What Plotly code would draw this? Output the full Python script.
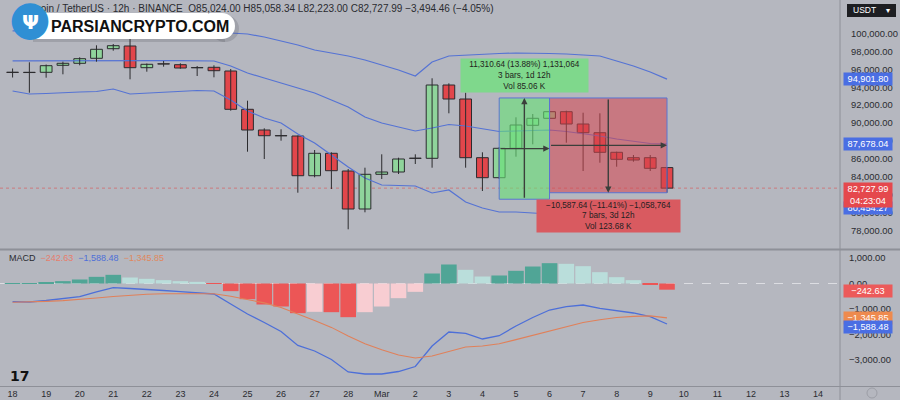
import plotly.graph_objects as go

# ---------------- data ----------------
date_labels = ['18','19','20','21','22','23','24','25','26','27','28','Mar',
               '2','3','4','5','6','7','8','9','10','11','12','13','14']
date_pos = [2*i for i in range(len(date_labels))]

opens  = [95666, 95660, 95666, 96448, 96671, 97230, 98302, 98604, 96180, 96593,
          96515, 96180, 96225, 95811, 91533, 89221, 88584, 88551, 84116, 86618,
          84641, 80397, 84273, 84530, 86060, 86060, 94247, 92684, 86127, 83893,
          87177, 89746, 90528, 91265, 89891, 88919, 86730, 86127, 86127, 85024.00]
highs  = [96090, 96783, 96537, 96850, 97342, 98682, 98827, 99609, 96649, 96928,
          96671, 96370, 96448, 96035, 92494, 89411, 89299, 88600, 86987, 86730,
          84865, 85010, 86507, 86127, 86507, 94996, 94437, 93387, 86730, 87322,
          90640, 91008, 91377, 91377, 91153, 91086, 86800, 86428, 86428, 85058.34]
lows   = [95085, 93387, 95063, 95443, 96448, 96850, 98079, 94884, 95733, 96292,
          96068, 95253, 95108, 91377, 86797, 85982, 88026, 82217, 83938, 82631,
          78129, 80028, 83748, 84306, 85423, 85010, 91086, 85010, 82407, 83748,
          86239, 87624, 90472, 87802, 84641, 85568, 85122, 85680, 84641, 82223.00]
closes = [95650, 95640, 96403, 96671, 97185, 98235, 98637, 96180, 96560, 96590,
          96146, 96170, 95845, 91533, 89221, 88584, 88570, 84116, 86618, 84675,
          80397, 84273, 84530, 85982, 86050, 94247, 92684, 86127, 83893, 87177,
          89779, 90528, 91265, 89891, 88919, 86730, 85948, 85870, 84943, 82727.99]

bb_upper = [100300, 100320, 100340, 100330, 100350, 100380, 100400, 100420, 100380, 100350,
            100320, 100280, 100200, 100056, 99944, 99609, 99162, 98715, 98157, 97822,
            97487, 97040, 96482, 95923, 95253, 96817, 97487, 97598, 97710, 97766,
            97822, 97822, 97766, 97710, 97598, 97487, 96928, 96370, 95700, 94901.80]
bb_basis = [96950, 96960, 96970, 96980, 96990, 97000, 97000, 96990, 96980, 96970,
            96960, 96950, 96930, 96370, 95588, 95029, 94471, 93912, 93354, 92572,
            91790, 90673, 90003, 89556, 89109, 89444, 89835, 89668, 89333, 89054,
            89109, 89165, 89221, 89054, 88830, 88551, 88216, 87937, 87713, 87678.04]
bb_lower = [93577, 93242, 93298, 93410, 93466, 93521, 93801, 93242, 93354, 93466,
            93521, 93633, 93577, 92572, 91343, 90561, 90003, 88774, 87769, 86429,
            85088, 83860, 83078, 83022, 82966, 82184, 82519, 81179, 80509, 80062,
            80062, 79950, 79839, 79839, 79950, 80062, 80174, 80286, 80397, 80454.27]

macd_line = [-715, -725, -666, -588, -517, -333, -165, -196, -227, -274,
             -321, -372, -412, -804, -1196, -1529, -1882, -2430, -2646, -2979,
             -3469, -3548, -3548, -3450, -3254, -2450, -1901, -1952, -2176, -2046,
             -1666, -1333, -1039, -909, -843, -972, -1078, -1156, -1301, -1588.48]
signal_line = [-737, -725, -700, -670, -630, -570, -510, -455, -420, -400,
               -390, -385, -400, -500, -620, -760, -940, -1180, -1450, -1720,
               -2060, -2360, -2600, -2800, -2920, -2840, -2650, -2490, -2450, -2360,
               -2200, -2030, -1850, -1690, -1530, -1420, -1330, -1290, -1270, -1345.85]
macd_hist = [5, 15, 50, 92, 157, 261, 340, 235, 183, 131,
             92, 65, -12, -300, -614, -823, -902, -1163, -1110, -1124,
             -1320, -1124, -902, -575, -327, 392, 745, 536, 274, 314,
             497, 666, 797, 771, 679, 444, 248, 131, -30, -242.63]

price_ticks = [78000, 80000, 82000, 84000, 86000, 88000, 90000, 92000, 94000, 96000, 98000, 100000]
macd_ticks = [1000, 0, -1000, -2000, -3000]

# measurement tool (bar index and prices)
m_start_bar, m_mid_bar, m_end_bar = 29, 32, 39
m_low_price, m_high_price, m_end_price = 81490.0, 92800.64, 82213.0
m1_text = "11,310.64 (13.88%) 1,131,064<br>3 bars, 1d 12h<br>Vol 85.06 K"
m2_text = "\u221210,587.64 (\u221211.41%) \u22121,058,764<br>7 bars, 3d 12h<br>Vol 123.68 K"

header = ("Bitcoin / TetherUS \u00b7 12h \u00b7 BINANCE  O85,024.00 H85,058.34 "
          "L82,223.00 C82,727.99 \u22123,494.46 (\u22124.05%)")

# ---------------- style ----------------
BG = '#b5b7bf'
TXT = '#2a2b30'
BLUE = '#5573d4'
GREEN = '#8fd49b'
RED = '#e2464b'
WICK = '#2b2b2e'
SEP = '#8e9098'
FONT = 'Liberation Sans, Arial, sans-serif'

W, H = 900, 400
XR = 840 / W


def px(x):
    return x / W


def py(y):
    return 1 - y / H


def fmt(v):
    s = f"{abs(v):,.2f}"
    return ('\u2212' + s) if v < 0 else s


xs = list(range(len(closes)))

fig = go.Figure()
for band in (bb_upper, bb_basis, bb_lower):
    fig.add_trace(go.Scatter(x=xs, y=band, mode='lines', line=dict(color=BLUE, width=1.2),
                             hoverinfo='skip', xaxis='x', yaxis='y'))

# candles: wicks + bodies
wick_x, wick_y = [], []
for i in xs:
    wick_x += [i, i, None]
    wick_y += [lows[i], highs[i], None]
fig.add_trace(go.Scatter(x=wick_x, y=wick_y, mode='lines', line=dict(color=WICK, width=1),
                         hoverinfo='skip', xaxis='x', yaxis='y'))
body_base = [min(o, c) for o, c in zip(opens, closes)]
body_len = [max(abs(c - o), 25) for o, c in zip(opens, closes)]
body_col = [GREEN if c > o else RED for o, c in zip(opens, closes)]
fig.add_trace(go.Bar(x=xs, y=body_len, base=body_base, width=0.7,
                     marker=dict(color=body_col, line=dict(color=WICK, width=1)),
                     xaxis='x', yaxis='y', hoverinfo='skip'))

hist_colors = []
prev = None
for h in macd_hist:
    if h >= 0:
        c = '#50a596' if (prev is None or h >= prev) else '#badedb'
    else:
        c = '#ec5656' if (prev is None or h < prev) else '#f8cdd2'
    hist_colors.append(c)
    prev = h

fig.add_trace(go.Bar(x=xs, y=macd_hist, marker=dict(color=hist_colors, line=dict(width=0)),
                     width=0.93, xaxis='x2', yaxis='y2', hoverinfo='skip'))
fig.add_trace(go.Scatter(x=xs, y=macd_line, mode='lines', line=dict(color='#4d6fd8', width=1.3),
                         xaxis='x2', yaxis='y2', hoverinfo='skip'))
fig.add_trace(go.Scatter(x=xs, y=signal_line, mode='lines', line=dict(color='#e0805a', width=1.1),
                         xaxis='x2', yaxis='y2', hoverinfo='skip'))

x_range = [-0.75, 49.31]
p_range = [76041, 103742]
m_range = [-4018, 1274]

fig.update_layout(
    width=W, height=H, margin=dict(l=0, r=0, t=0, b=0),
    paper_bgcolor=BG, plot_bgcolor=BG, showlegend=False, barmode='overlay',
    font=dict(family=FONT, color=TXT, size=9.4),
    xaxis=dict(domain=[0, XR], range=x_range, anchor='y', showticklabels=False,
               showgrid=False, zeroline=False, fixedrange=True),
    xaxis2=dict(domain=[0, XR], range=x_range, anchor='y2', matches='x',
                tickmode='array', tickvals=date_pos, ticktext=date_labels,
                tickfont=dict(size=9, color=TXT), showgrid=False, zeroline=False, ticks='',
                ticklabelstandoff=1),
    yaxis=dict(domain=[py(248), 1], range=p_range, side='right', anchor='x',
               tickmode='array', tickvals=price_ticks, ticktext=[fmt(v) for v in price_ticks],
               tickfont=dict(size=9.4, color=TXT), showgrid=False, zeroline=False, ticks='',
               ticklabelstandoff=10),
    yaxis2=dict(domain=[py(386), py(251)], range=m_range, side='right', anchor='x2',
                tickmode='array', tickvals=macd_ticks, ticktext=[fmt(v) for v in macd_ticks],
                tickfont=dict(size=9.4, color=TXT), showgrid=False, zeroline=False, ticks='',
                ticklabelstandoff=8),
)

shapes = []
# pane separators
shapes.append(dict(type='line', xref='paper', yref='paper', x0=0, x1=1, y0=py(249.5), y1=py(249.5),
                   line=dict(color=SEP, width=2)))
shapes.append(dict(type='line', xref='paper', yref='paper', x0=XR, x1=XR, y0=0, y1=1,
                   line=dict(color=SEP, width=1)))
shapes.append(dict(type='line', xref='paper', yref='paper', x0=0, x1=1, y0=py(386.5), y1=py(386.5),
                   line=dict(color=SEP, width=1)))
# current price line
shapes.append(dict(type='line', xref='paper', yref='y', x0=0, x1=XR, y0=closes[-1], y1=closes[-1],
                   line=dict(color='rgba(215,95,95,0.7)', width=1, dash='dot'), layer='below'))
# macd zero line
shapes.append(dict(type='line', xref='paper', yref='y2', x0=0, x1=XR, y0=0, y1=0,
                   line=dict(color='#dcdde2', width=1, dash='dash'), layer='below'))
# measurement boxes
shapes.append(dict(type='rect', xref='x', yref='y', x0=m_start_bar, x1=m_mid_bar,
                   y0=m_low_price, y1=m_high_price, fillcolor='rgba(105,225,120,0.62)',
                   line=dict(color='#5b74d2', width=1), layer='above'))
shapes.append(dict(type='rect', xref='x', yref='y', x0=m_mid_bar, x1=m_end_bar,
                   y0=m_end_price, y1=m_high_price, fillcolor='rgba(215,70,78,0.55)',
                   line=dict(color='#5b74d2', width=1), layer='above'))
# logo pill (with soft shadow)
shapes.append(dict(type='rect', xref='paper', yref='paper', x0=px(33), x1=px(225), y0=py(42), y1=py(15),
                   fillcolor='rgba(60,60,70,0.18)', line=dict(width=0), layer='above'))
shapes.append(dict(type='circle', xref='paper', yref='paper', x0=px(211), x1=px(239), y0=py(42), y1=py(15),
                   fillcolor='rgba(60,60,70,0.18)', line=dict(width=0), layer='above'))
shapes.append(dict(type='rect', xref='paper', yref='paper', x0=px(33), x1=px(222), y0=py(39), y1=py(13),
                   fillcolor='white', line=dict(width=0), layer='above'))
shapes.append(dict(type='circle', xref='paper', yref='paper', x0=px(209), x1=px(235), y0=py(39), y1=py(13),
                   fillcolor='white', line=dict(width=0), layer='above'))
# USDT box
shapes.append(dict(type='rect', xref='paper', yref='paper', x0=px(847), x1=px(896), y0=py(17), y1=py(4),
                   fillcolor='#1d1e22', line=dict(width=0), layer='above'))
# settings circle bottom-right
shapes.append(dict(type='circle', xref='paper', yref='paper', x0=px(867), x1=px(877), y0=py(398), y1=py(388),
                   fillcolor='rgba(0,0,0,0)', line=dict(color='#9c9ea6', width=1)))
fig.update_layout(shapes=shapes)

ann = []
# header line
ann.append(dict(xref='paper', yref='paper', x=px(22), y=py(9), xanchor='left', yanchor='middle',
                text=header, showarrow=False, font=dict(size=10, color=TXT)))
# logo text & icon
ann.append(dict(xref='paper', yref='paper', x=px(49), y=py(26.5), xanchor='left', yanchor='middle',
                text='<b>PARSIANCRYPTO.COM</b>', showarrow=False,
                font=dict(size=16, color='#111111', family='Liberation Sans, Arial')))
ann.append(dict(xref='paper', yref='paper', x=px(30), y=py(16.5), xanchor='center', yanchor='middle',
                text='\u25cf', showarrow=False,
                font=dict(size=48, color='#2f8fd4', family='DejaVu Sans')))
ann.append(dict(xref='paper', yref='paper', x=px(30), y=py(22), xanchor='center', yanchor='middle',
                text='<b>\u03a8</b>', showarrow=False,
                font=dict(size=20, color='white', family='DejaVu Sans')))
# MACD legend
ann.append(dict(xref='paper', yref='paper', x=px(7), y=py(258), xanchor='left', yanchor='middle',
                text=("MACD  <span style='color:#e77d6c'>" + fmt(macd_hist[-1]) + "</span>  "
                      "<span style='color:#4d6fd8'>" + fmt(macd_line[-1]) + "</span>  "
                      "<span style='color:#e0885e'>" + fmt(signal_line[-1]) + "</span>"),
                showarrow=False, font=dict(size=9, color=TXT)))
# USDT
ann.append(dict(xref='paper', yref='paper', x=px(851), y=py(10.5), xanchor='left', yanchor='middle',
                text='USDT', showarrow=False, font=dict(size=8.5, color='white')))
ann.append(dict(xref='paper', yref='paper', x=px(892), y=py(10.5), xanchor='right', yanchor='middle',
                text='\u25be', showarrow=False, font=dict(size=8, color='white')))
# TV logo
ann.append(dict(xref='paper', yref='paper', x=px(8), y=py(376), xanchor='left', yanchor='middle',
                text='<b>17</b>', showarrow=False, font=dict(size=14, color='#111111', family='DejaVu Sans')))


# axis value tags
def tag(v, yref, bg, text=None, yshift=0):
    return dict(xref='paper', yref=yref, x=px(843), y=v, xanchor='left', yanchor='middle',
                text=text if text else fmt(v), showarrow=False, bgcolor=bg, width=46,
                borderpad=1, align='center', yshift=yshift,
                font=dict(size=9.2, color='white'))


ann.append(tag(bb_upper[-1], 'y', '#4a6ee3'))
ann.append(tag(bb_basis[-1], 'y', '#4a6ee3'))
ann.append(tag(bb_lower[-1], 'y', '#4a6ee3'))
ann.append(dict(xref='paper', yref='y', x=px(843), y=closes[-1], xanchor='left', yanchor='top',
                text=fmt(closes[-1]) + '<br>04:23:04', showarrow=False, bgcolor='#e5484d', width=46,
                borderpad=1, align='center', yshift=6, font=dict(size=9.2, color='white')))
ann.append(tag(macd_hist[-1], 'y2', '#ec5a5a', yshift=-1))
ann.append(tag(signal_line[-1], 'y2', '#ee8a4e'))
ann.append(tag(macd_line[-1], 'y2', '#4a6ee3', yshift=-3))

# measurement arrows
mid1 = (m_low_price + m_high_price) / 2
mid2 = (m_high_price + m_end_price) / 2
xc1 = (m_start_bar + m_mid_bar) / 2
xc2 = (m_mid_bar + m_end_bar) / 2
arrow = dict(showarrow=True, arrowhead=2, arrowsize=0.9, arrowwidth=1.4, arrowcolor='#3b3f3b',
             axref='x', ayref='y', xref='x', yref='y', text='')
ann.append(dict(arrow, x=xc1, y=m_high_price, ax=xc1, ay=m_low_price))
ann.append(dict(arrow, x=m_mid_bar, y=mid1, ax=m_start_bar, ay=mid1))
ann.append(dict(arrow, x=xc2, y=m_end_price, ax=xc2, ay=m_high_price))
ann.append(dict(arrow, x=m_end_bar, y=mid2, ax=m_mid_bar, ay=mid2))
# measurement labels
ann.append(dict(xref='x', yref='y', x=xc1, y=m_high_price, xanchor='center', yanchor='bottom',
                yshift=5, text=m1_text, showarrow=False, bgcolor='#7fd88c', width=125, height=31,
                borderpad=1, align='center', font=dict(size=8.2, color='#1f2320')))
ann.append(dict(xref='x', yref='y', x=xc2, y=m_end_price, xanchor='center', yanchor='top',
                yshift=-6, text=m2_text, showarrow=False, bgcolor='#d95a60', width=141, height=30,
                borderpad=1, align='center', font=dict(size=8.2, color='#1f1f22')))
fig.update_layout(annotations=ann)

fig.write_html("out.html", config={'displayModeBar': False},
               post_script="document.body.style.margin='0px';")
